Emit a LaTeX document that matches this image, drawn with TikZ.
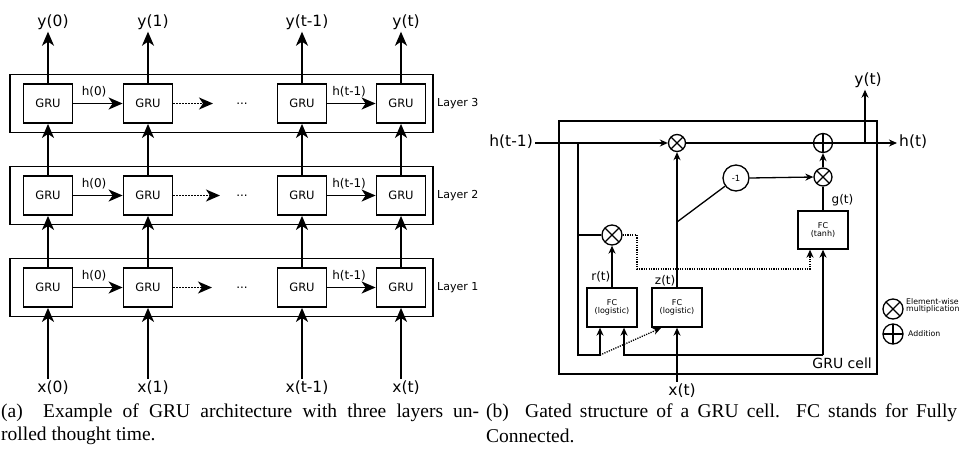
\documentclass[tikz,border=0pt]{standalone}
\usepackage{fontspec}
\setmainfont{DejaVu Sans}
\newfontfamily\capfont{Liberation Serif}
\usetikzlibrary{arrows.meta}
\newcommand\myfs[1]{\fontsize{#1}{#1}\selectfont}
\tikzset{
 gru/.style={draw, line width=1.8pt, minimum width=49pt, minimum height=39pt, inner sep=0pt, font=\myfs{11.5}},
 layerbox/.style={draw, line width=1.8pt, minimum width=423pt, minimum height=58pt, inner sep=0pt},
 big/.style={line width=1.7pt, -{Stealth[length=14pt,width=12pt,inset=4pt]}},
 bigdot/.style={big, dash pattern=on 1.6pt off 1.4pt},
 lbl/.style={font=\myfs{15.5}, inner sep=2pt},
 hlab/.style={font=\myfs{12}, anchor=south, inner sep=0pt, yshift=6pt},
 laylab/.style={font=\myfs{11}, anchor=west, inner sep=0pt},
 rl/.style={line width=1.3pt},
 ra/.style={rl, -{Stealth[length=8pt,width=7pt,inset=2.5pt]}},
 rdot/.style={rl, dash pattern=on 1.2pt off 1.2pt},
 rdota/.style={ra, dash pattern=on 1.2pt off 1.2pt},
 otimes/.style={circle, draw, line width=1.3pt, inner sep=0pt,
   path picture={\draw[line width=1.3pt] (path picture bounding box.north west) -- (path picture bounding box.south east)
     (path picture bounding box.north east) -- (path picture bounding box.south west);}},
 oplus/.style={circle, draw, line width=1.3pt, inner sep=0pt,
   path picture={\draw[line width=1.3pt] (path picture bounding box.north) -- (path picture bounding box.south)
     (path picture bounding box.east) -- (path picture bounding box.west);}},
 fc/.style={draw, line width=1.3pt, minimum width=50pt, minimum height=39pt, inner sep=0pt, align=center, font=\myfs{8}},
 slab/.style={font=\myfs{12}, inner sep=1pt},
 rlbl/.style={font=\myfs{15.5}, inner sep=2pt},
 leg/.style={font=\myfs{7.8}, anchor=west, inner sep=0pt, align=left},
 captxt/.style={font=\capfont\myfs{19.5}, anchor=west, inner sep=0pt},
}
\begin{document}
\begin{tikzpicture}[x=1pt,y=-1pt]
\useasboundingbox (0,0) rectangle (962,451);
% ---------------- left: unrolled GRU ----------------
\foreach \l/\y in {1/287.5,2/195.5,3/103.5} {
  \node[layerbox] (L\l) at (221.5,\y) {};
  \node[laylab] (LL\l) at (437,\y) {Layer \l};
  \foreach \c/\x in {1/48,2/148,3/302,4/401}
    \node[gru] (g\l\c) at (\x,\y) {GRU};
}
\foreach \l/\y/\e in {1/287.5/212,2/195.5/220,3/103.5/213} {
  \draw[big] (g\l1) -- (g\l2) node[hlab,pos=0.42] {h(0)};
  \coordinate (de\l) at (\e,\y);
  \draw[bigdot] (g\l2.east) -- (de\l);
  \node[font=\myfs{12}, inner sep=0pt] (dots\l) at (242,\y) {...};
  \draw[big] (g\l3) -- (g\l4) node[hlab,pos=0.45] {h(t-1)};
}
\foreach \c/\x/\t in {1/48/0,2/148/1,3/302/t-1,4/401/t} {
  \node[lbl] (x\c) at (\x+5,388) {x(\t)};
  \node[lbl] (y\c) at (\x+5,22) {y(\t)};
  \draw[big] (g1\c.south |- x\c.north) -- (g1\c.south);
  \draw[big] (g1\c) -- (g2\c);
  \draw[big] (g2\c) -- (g3\c);
  \draw[big] (g3\c.north) -- (g3\c.north |- y\c.south);
}
% ---------------- right: GRU cell ----------------
\node[draw, rl, minimum width=318pt, minimum height=253pt, inner sep=0pt] (cell) at (718,247.5) {};
\node[font=\myfs{14}, anchor=east, inner sep=0pt] (celllab) at (872,363) {GRU cell};
\node[otimes, minimum size=17pt] (m1) at (677,143) {};
\node[otimes, minimum size=20pt] (m2) at (612,235) {};
\node[otimes, minimum size=18pt] (m3) at (823,177) {};
\node[oplus, minimum size=19pt] (p1) at (823,143) {};
\node[circle, draw, rl, minimum size=26pt, inner sep=0pt, font=\myfs{8.5}] (neg) at (736,178) {-1};
\node[fc] (fc1) at (612,307.5) {FC\\(logistic)};
\node[fc] (fc2) at (677,307.5) {FC\\(logistic)};
\node[fc, minimum height=38pt] (fc3) at (823,230) {FC\\(tanh)};
\node[rlbl, anchor=east] (hprev) at (535,142) {h(t-1)};
\node[rlbl, anchor=west] (ht) at (897,142) {h(t)};
\node[rlbl] (yt) at (868,80) {y(t)};
\node[rlbl] (xt) at (682,391) {x(t)};
\coordinate (j1) at (578,143);
\coordinate (j2) at (578,235);
\coordinate (b1) at (600,355);
\coordinate (b2) at (624,355);
\coordinate (b3) at (823,355);
\coordinate (xz) at (677,222);
\coordinate (d1) at (637,235);
\coordinate (d2) at (637,269);
\coordinate (d3) at (810,269);
\coordinate (yj) at (865,143);
\coordinate (dz) at (661,328);
\draw[ra] (hprev.east |- m1) -- (m1.west);
\draw[ra] (j1) |- (b1) -- (b1 |- fc1.south);
\draw[rl] (j2) -- (m2.west);
\draw[ra] (fc1.north) -- (m2.south) node[slab, pos=0, anchor=south east, yshift=4pt] {r(t)};
\draw[rdota] (m2.east) -- (d1) -- (d2) -- (d3) -- (d3 |- fc3.south);
\draw[ra] (fc2.north) -- (m1.south) node[slab, pos=0, anchor=south east] {z(t)};
\draw[rl] (xz) -- (neg);
\draw[ra] (neg.east) -- (m3.west);
\draw[ra] (m3.north) -- (p1.south);
\draw[rl] (fc3.north) -- (m3.south) node[slab, pos=0, anchor=south west, xshift=7pt, yshift=3pt] {g(t)};
\draw[rl] (m1.east) -- (p1.west);
\draw[ra] (p1.east) -- (p1 -| ht.west);
\draw[ra] (yj) -- (yj |- yt.south);
\draw[ra] (fc2.south |- xt.north) -- (fc2.south);
\draw[ra] (b3) -- (b2) -- (b2 |- fc1.south);
\draw[ra] (b3) -- (fc3.south);
\draw[rdota] (b1) -- (dz);
% legend
\node[otimes, minimum size=20pt] (lm) at (893,309) {};
\node[leg] (lmt) at (906,306) {Element-wise\\[-1pt]multiplication};
\node[oplus, minimum size=20pt] (lp) at (893,334) {};
\node[leg] (lpt) at (908,334) {Addition};
% ---------------- captions ----------------
\node[captxt] (capa1) at (1,413) {\makebox[478pt][s]{(a)\ \ Example of GRU architecture with three layers un-}};
\node[captxt] (capa2) at (1,436) {rolled thought time.};
\node[captxt] (capb1) at (486,413) {\makebox[471pt][s]{(b)\ \ Gated structure of a GRU cell. FC stands for Fully}};
\node[captxt] (capb2) at (486,436) {Connected.};
\end{tikzpicture}
\end{document}
